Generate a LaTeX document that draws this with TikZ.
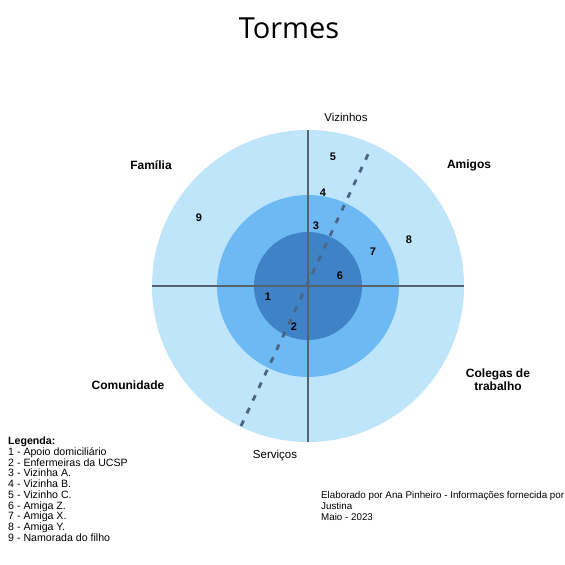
\documentclass[tikz,border=0pt]{standalone}
\usepackage{fontspec}
\setmainfont{Liberation Sans}
\newfontfamily\titlefont{Open Sans}
\definecolor{ringout}{HTML}{BEE5FA}
\definecolor{ringmid}{HTML}{6DB9F3}
\definecolor{ringin}{HTML}{3F82C6}
\definecolor{axis}{HTML}{56626C}
\definecolor{dashc}{HTML}{4A6583}
\begin{document}
\begin{tikzpicture}[x=1pt,y=-1pt,
  lab/.style={font=\fontsize{11.5}{12}\selectfont, inner sep=0pt},
  blab/.style={font=\fontsize{12}{13}\selectfont\bfseries, inner sep=0pt, align=center},
  num/.style={font=\fontsize{11}{12}\selectfont\bfseries, inner sep=0pt},
  axisline/.style={draw=axis, line width=1.6pt},
  dashline/.style={draw=dashc, line width=2.8pt, dash pattern=on 6pt off 8pt}]
\useasboundingbox (0,0) rectangle (565,565);
\fill[white] (0,0) rectangle (565,565);
% rings
\coordinate (c) at (308,286);
\fill[ringout] (c) circle (156);
\fill[ringmid] (c) circle (91);
\fill[ringin] (c) circle (54);
% axes
\coordinate (vtop) at (308,130);
\coordinate (vbot) at (308,442);
\coordinate (hl) at (152,286);
\coordinate (hr) at (464,286);
\draw[axisline] (vtop) -- (vbot);
\draw[axisline] (hl) -- (hr);
% dashed line
\coordinate (dlo) at (241,426);
\coordinate (dhi) at (371,148);
\draw[dashline] (dlo) -- (dhi);
% title
\node[font=\titlefont\fontsize{29}{32}\selectfont, inner sep=0pt] (title) at (289,28) {Tormes};
% sector labels
\node[lab] (viz) at (346,117) {Vizinhos};
\node[lab] (serv) at (275,456) {Serviços};
\node[blab] (fam) at (151,165) {Família};
\node[blab] (ami) at (469,165) {Amigos};
\node[blab] (com) at (128,385) {Comunidade};
\node[blab] (col) at (498,380) {Colegas de\\trabalho};
% numbers
\node[num] (n1) at (268,297) {1};
\node[num] (n2) at (294,327) {2};
\node[num] (n3) at (316,226) {3};
\node[num] (n4) at (323,193) {4};
\node[num] (n5) at (333,157) {5};
\node[num] (n6) at (340,276) {6};
\node[num] (n7) at (373,252) {7};
\node[num] (n8) at (409,240) {8};
\node[num] (n9) at (199,218) {9};
% legend
\node[anchor=north west, inner sep=0pt, align=left, font=\fontsize{10.6}{10.7}\selectfont] (leg) at (8,437)
{\textbf{Legenda:}\\
1 - Apoio domiciliário\\
2 - Enfermeiras da UCSP\\
3 - Vizinha A.\\
4 - Vizinha B.\\
5 - Vizinho C.\\
6 - Amiga Z.\\
7 - Amiga X.\\
8 - Amiga Y.\\
9 - Namorada do filho};
% footer
\node[anchor=north west, inner sep=0pt, align=left, font=\fontsize{9.8}{11.2}\selectfont] (foot) at (321,491)
{Elaborado por Ana Pinheiro - Informações fornecida por\\
Justina\\
Maio - 2023};
\end{tikzpicture}
\end{document}
